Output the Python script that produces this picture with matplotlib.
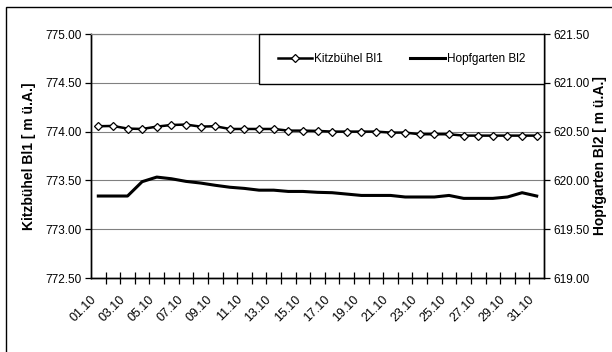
import matplotlib.pyplot as plt
from matplotlib.patches import Rectangle
from matplotlib.lines import Line2D

plt.rcParams['font.family'] = ['Liberation Sans', 'DejaVu Sans']

days = list(range(1, 32))
day_labels = ['%02d.10' % d for d in days]

kitzbuehel = [774.055, 774.058, 774.031, 774.027, 774.051, 774.068, 774.072, 774.051,
              774.055, 774.027, 774.027, 774.027, 774.027, 774.010, 774.010, 774.007,
              774.000, 774.000, 774.000, 774.000, 773.990, 773.990, 773.973, 773.973,
              773.973, 773.959, 773.959, 773.959, 773.959, 773.959, 773.959]
hopfgarten = [619.84, 619.84, 619.84, 619.987, 620.034, 620.017, 619.99, 619.973,
              619.95, 619.93, 619.918, 619.90, 619.90, 619.887, 619.887, 619.878,
              619.874, 619.86, 619.846, 619.846, 619.846, 619.83, 619.83, 619.83,
              619.846, 619.816, 619.816, 619.816, 619.83, 619.874, 619.84]

left_ticks = [772.5, 773.0, 773.5, 774.0, 774.5, 775.0]
right_ticks = [619.0, 619.5, 620.0, 620.5, 621.0, 621.5]

fig = plt.figure(figsize=(6.12, 3.52), dpi=100)
ax = fig.add_axes([0.1487, 0.2102, 0.7402, 0.6932])
ax2 = ax.twinx()

# outer chart frame (only left and top edges fall inside the image)
fig.patches.append(Rectangle((6 / 612, -0.2), 1.2, 1.2 - 7 / 352, transform=fig.transFigure,
                             fill=False, edgecolor='black', linewidth=1.0))

ax.plot(days, kitzbuehel, color='black', linewidth=1.8, marker='D', markersize=4.2,
        markerfacecolor='white', markeredgecolor='black', markeredgewidth=0.9, zorder=3)
ax2.plot(days, hopfgarten, color='black', linewidth=2.2, zorder=3)

ax.set_xlim(0.5, 31.5)
ax.set_ylim(772.5, 775.0)
ax2.set_ylim(619.0, 621.5)

ax.set_yticks(left_ticks)
ax.set_yticklabels(['%.2f' % v for v in left_ticks])
ax2.set_yticks(right_ticks)
ax2.set_yticklabels(['%.2f' % v for v in right_ticks])

# category boundaries get the tick marks, every second day gets a label
ax.set_xticks([d + 0.5 for d in days[:-1]], minor=True)
ax.set_xticks(days[::2])
ax.set_xticklabels(day_labels[::2], rotation=45, ha='right')
ax.tick_params(axis='x', which='major', length=0, pad=11, labelsize=9)
ax.tick_params(axis='x', which='minor', direction='inout', length=8, width=0.9)
ax.tick_params(axis='y', direction='out', length=4, width=0.9, pad=3, labelsize=8.5)
ax2.tick_params(axis='y', direction='out', length=4, width=0.9, pad=3, labelsize=8.5)

ax.grid(True, axis='y', color='#808080', linewidth=0.8)
ax.set_axisbelow(True)
for a in (ax, ax2):
    a.spines['top'].set_color('#808080')
    a.spines['left'].set_linewidth(1.0)
    a.spines['right'].set_linewidth(1.0)
    a.spines['bottom'].set_linewidth(1.0)

ax.set_ylabel('Kitzbühel Bl1 [ m ü.A.]', fontsize=10, fontweight='bold')
ax2.set_ylabel('Hopfgarten Bl2 [ m ü.A.]', fontsize=10, fontweight='bold')
ax.yaxis.set_label_coords(-0.122, 0.5)
ax2.yaxis.set_label_coords(1.108, 0.5)

handles = [Line2D([], [], color='black', linewidth=1.8, marker='D', markersize=4.2,
                  markerfacecolor='white', markeredgecolor='black', markeredgewidth=0.9),
           Line2D([], [], color='black', linewidth=2.2)]
leg = ax2.legend(handles, ['Kitzbühel Bl1', 'Hopfgarten Bl2'], ncol=2,
                 loc='upper right', bbox_to_anchor=(1.0, 1.0),
                 borderaxespad=0, fontsize=8.5, numpoints=1, handlelength=2.95,
                 handletextpad=0.15, columnspacing=2.3, fancybox=False, framealpha=1,
                 edgecolor='black', borderpad=1.6)
leg.get_frame().set_linewidth(1.0)

fig.savefig('out.png', dpi=100)
